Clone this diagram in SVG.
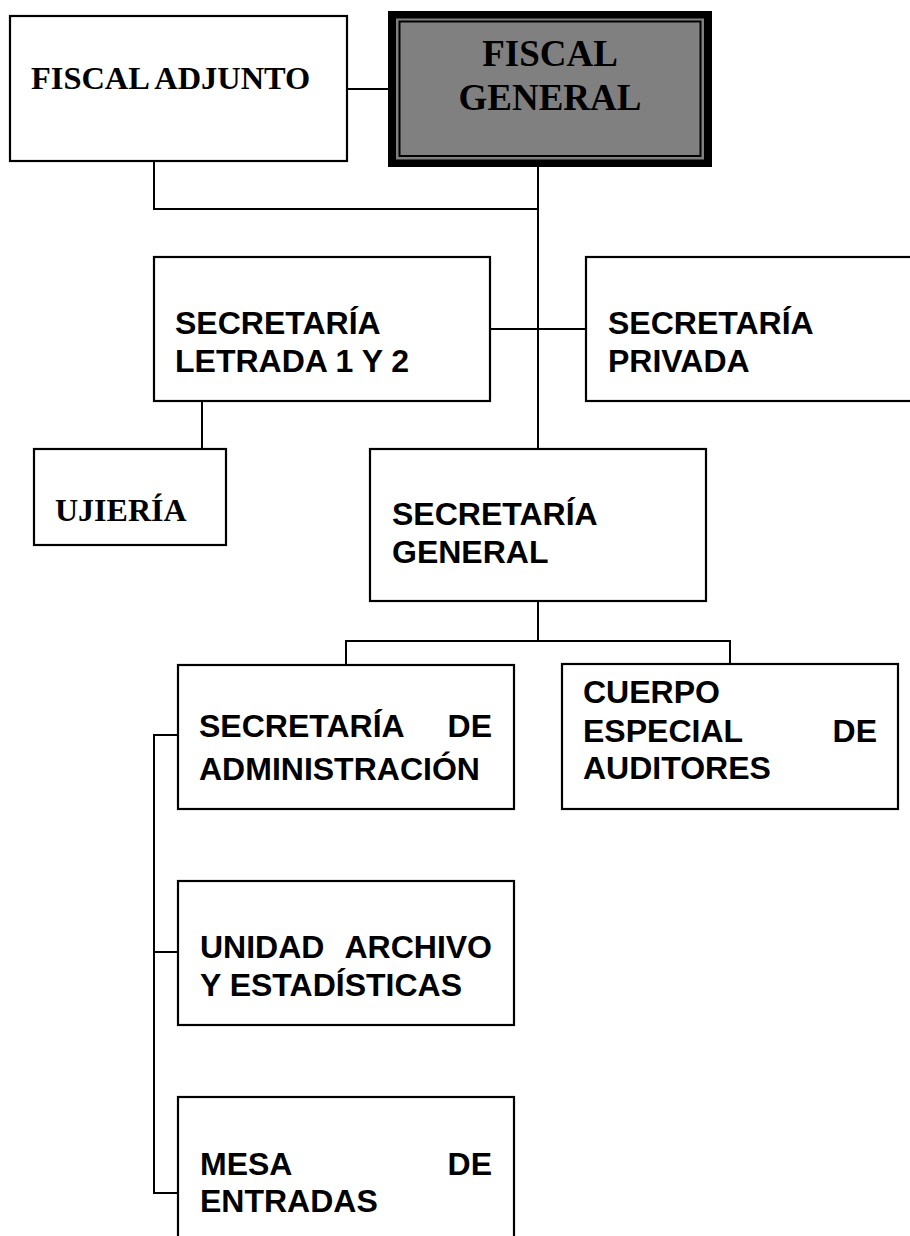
<svg xmlns="http://www.w3.org/2000/svg" width="910" height="1236" viewBox="0 0 910 1236">
<style>
.box{fill:#fff;stroke:#000;stroke-width:2.2}
.con{fill:none;stroke:#000;stroke-width:2}
.serif{font-family:"Liberation Serif","Times New Roman",serif;font-weight:bold;fill:#000}
.sans{font-family:"Liberation Sans",Arial,sans-serif;font-weight:bold;font-size:32px;fill:#000}
</style>
<rect width="910" height="1236" fill="#fff"/>
<g id="connectors">
<path class="con" d="M347 89H388"/>
<path class="con" d="M154 161V209H538"/>
<path class="con" d="M538 167V449"/>
<path class="con" d="M490 329H586"/>
<path class="con" d="M202 401V449"/>
<path class="con" d="M538 601V641"/>
<path class="con" d="M346 665V641H730V664"/>
<path class="con" d="M178 735H154V1193H178"/>
<path class="con" d="M154 952H178"/>
</g>
<g id="fiscal-adjunto">
<rect class="box" x="10" y="16" width="337" height="145"/>
<text class="serif" x="31" y="89" font-size="32.4">FISCAL ADJUNTO</text>
</g>
<g id="fiscal-general">
<rect x="388" y="11" width="324" height="156" fill="#000"/>
<rect x="396" y="18.5" width="308" height="141" fill="#808080"/>
<rect x="399.5" y="21.5" width="301" height="134.5" fill="#808080" stroke="#000" stroke-width="2"/>
<text class="serif" x="550" y="66" font-size="37" text-anchor="middle">FISCAL</text>
<text class="serif" x="550" y="110" font-size="37" text-anchor="middle">GENERAL</text>
</g>
<g id="secretaria-letrada">
<rect class="box" x="154" y="257" width="336" height="144"/>
<text class="sans" x="175" y="334">SECRETARÍA</text>
<text class="sans" x="175" y="372">LETRADA 1 Y 2</text>
</g>
<g id="secretaria-privada">
<rect class="box" x="586" y="257" width="340" height="144"/>
<text class="sans" x="608" y="334">SECRETARÍA</text>
<text class="sans" x="608" y="372">PRIVADA</text>
</g>
<g id="ujieria">
<rect class="box" x="34" y="449" width="192" height="96"/>
<text class="serif" x="55" y="521" font-size="32">UJIERÍA</text>
</g>
<g id="secretaria-general">
<rect class="box" x="370" y="449" width="336" height="152"/>
<text class="sans" x="392" y="525">SECRETARÍA</text>
<text class="sans" x="392" y="563">GENERAL</text>
</g>
<g id="secretaria-administracion">
<rect class="box" x="178" y="665" width="336" height="144"/>
<text class="sans" x="199" y="737">SECRETARÍA</text>
<text class="sans" x="492" y="737" text-anchor="end">DE</text>
<text class="sans" x="199" y="780">ADMINISTRACIÓN</text>
</g>
<g id="cuerpo-auditores">
<rect class="box" x="562" y="664" width="336" height="145"/>
<text class="sans" x="583" y="703">CUERPO</text>
<text class="sans" x="583" y="742">ESPECIAL</text>
<text class="sans" x="877" y="742" text-anchor="end">DE</text>
<text class="sans" x="583" y="779">AUDITORES</text>
</g>
<g id="unidad-archivo">
<rect class="box" x="178" y="881" width="336" height="144"/>
<text class="sans" x="200" y="958">UNIDAD</text>
<text class="sans" x="492" y="958" text-anchor="end">ARCHIVO</text>
<text class="sans" x="200" y="996">Y ESTADÍSTICAS</text>
</g>
<g id="mesa-entradas">
<rect class="box" x="178" y="1097" width="336" height="150"/>
<text class="sans" x="200" y="1175">MESA</text>
<text class="sans" x="492" y="1175" text-anchor="end">DE</text>
<text class="sans" x="200" y="1212">ENTRADAS</text>
</g>
</svg>
